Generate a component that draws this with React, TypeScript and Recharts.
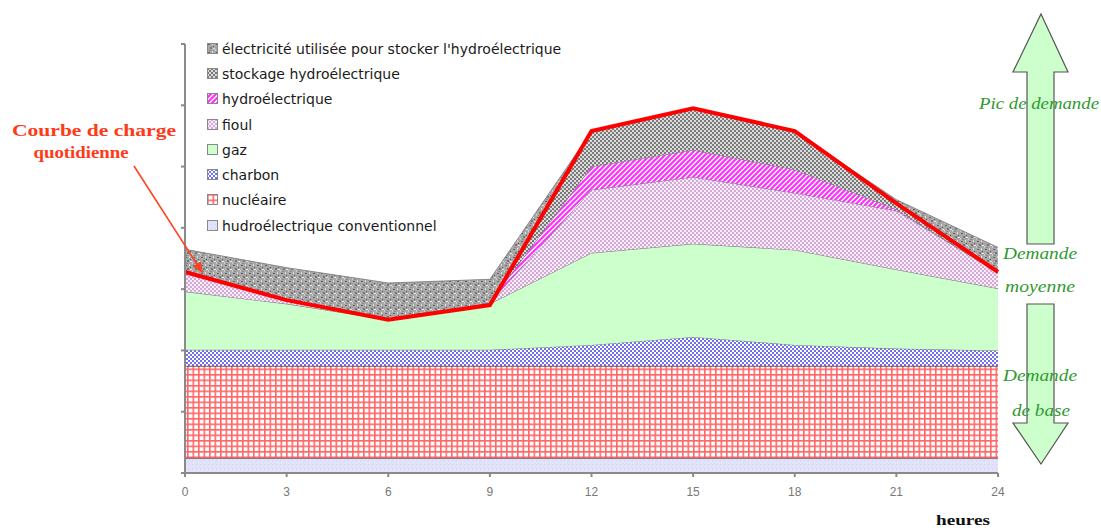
import React from 'react';
import { ComposedChart, Area, Line, XAxis, YAxis, Legend } from 'recharts';

// heures de la journée
const hours = [0, 3, 6, 9, 12, 15, 18, 21, 24];

// épaisseur de chaque couche empilée (unités de l'axe vertical, sans échelle)
const hydroConv = [0.25, 0.25, 0.25, 0.25, 0.25, 0.25, 0.25, 0.25, 0.25];
const nucleaire = [1.5, 1.5, 1.5, 1.5, 1.5, 1.5, 1.5, 1.5, 1.5];
const charbon = [0.26, 0.26, 0.26, 0.26, 0.34, 0.47, 0.34, 0.28, 0.25];
const gaz = [0.95, 0.75, 0.49, 0.75, 1.5, 1.52, 1.55, 1.29, 1.01];
const fioul = [0.31, 0.07, 0, 0.02, 1.03, 1.09, 0.93, 0.96, 0.26];
const hydro = [0, 0, 0, 0, 0.38, 0.44, 0.38, 0.02, 0];
const stockage = [0, 0, 0, 0, 0.57, 0.69, 0.62, 0.11, 0];
const elecStock = [0.38, 0.52, 0.6, 0.38, 0, 0, 0, 0.05, 0.41];

// courbe de charge quotidienne
const charge = [3.28, 2.82, 2.5, 2.74, 5.58, 5.95, 5.58, 4.4, 3.28];

const xTicks = [0, 3, 6, 9, 12, 15, 18, 21, 24];
const yTicks = [0, 1, 2, 3, 4, 5, 6, 7];

const series = [
  { key: 'hydroConv', name: 'hudroélectrique conventionnel', fill: 'url(#pHydroConv)', stroke: '#74505a', sw: 2 },
  { key: 'nucleaire', name: 'nucléaire', fill: 'url(#pNuc)', stroke: '#74505a', sw: 2 },
  { key: 'charbon', name: 'charbon', fill: 'url(#pCharbon)', stroke: '#777', sw: 1 },
  { key: 'gaz', name: 'gaz', fill: '#ccffcc', stroke: '#777', sw: 1 },
  { key: 'fioul', name: 'fioul', fill: 'url(#pFioul)', stroke: '#777', sw: 1 },
  { key: 'hydro', name: 'hydroélectrique', fill: 'url(#pHydro)', stroke: '#777', sw: 1 },
  { key: 'stockage', name: 'stockage hydroélectrique', fill: 'url(#pStock)', stroke: '#777', sw: 1 },
  { key: 'elecStock', name: "électricité utilisée pour stocker l'hydroélectrique", fill: 'url(#pElec)', stroke: '#888', sw: 1 },
];

const data = hours.map((h, i) => ({
  h,
  hydroConv: hydroConv[i],
  nucleaire: nucleaire[i],
  charbon: charbon[i],
  gaz: gaz[i],
  fioul: fioul[i],
  hydro: hydro[i],
  stockage: stockage[i],
  elecStock: elecStock[i],
  charge: charge[i],
}));

const renderLegend = () => (
  <div style={{ fontFamily: '"DejaVu Sans", Verdana, sans-serif', fontSize: 14, color: '#1a1a1a' }}>
    {[...series].reverse().map((s) => (
      <div key={s.key} style={{ display: 'flex', alignItems: 'center', height: 25.3, whiteSpace: 'nowrap' }}>
        <svg width={12} height={12} style={{ marginRight: 3 }}>
          <rect x={0.5} y={0.5} width={10} height={10} fill={s.fill} stroke="#888" />
        </svg>
        <span>{s.name}</span>
      </div>
    ))}
  </div>
);

const noTick = () => <g />;

const green = '#2f9a2f';

export default function App() {
  return (
    <div style={{ position: 'absolute', left: 0, top: 0, width: 1101, height: 528, background: '#fff' }}>
      <ComposedChart width={1101} height={528} data={data} margin={{ top: 44, right: 103, bottom: 25, left: 175 }}>
        <defs>
          <pattern id="pHydroConv" width="4" height="4" patternUnits="userSpaceOnUse">
            <rect width="4" height="4" fill="#e2e2fb" />
            <rect width="1" height="1" fill="#d0d0f0" />
          </pattern>
          <pattern id="pNuc" width="5.5" height="5.5" patternUnits="userSpaceOnUse">
            <rect width="5.5" height="5.5" fill="#fff" />
            <rect width="5.5" height="1.6" fill="#f66" />
            <rect width="1.6" height="5.5" fill="#f66" />
          </pattern>
          <pattern id="pCharbon" width="4" height="4" patternUnits="userSpaceOnUse">
            <rect width="4" height="4" fill="#fff" />
            <rect width="2" height="2" fill="#7070ee" />
            <rect x="2" y="2" width="2" height="2" fill="#7070ee" />
          </pattern>
          <pattern id="pFioul" width="4" height="4" patternUnits="userSpaceOnUse">
            <rect width="4" height="4" fill="#f7eef7" />
            <rect width="2" height="2" fill="#d4a8d8" />
            <rect x="2" y="2" width="2" height="2" fill="#d4a8d8" />
          </pattern>
          <pattern id="pHydro" width="5" height="5" patternUnits="userSpaceOnUse">
            <rect width="5" height="5" fill="#fff" />
            <path d="M-1,6 L6,-1 M-1,1 L1,-1 M4,6 L6,4" stroke="#ff30ff" strokeWidth="2.2" />
          </pattern>
          <pattern id="pStock" width="4" height="4" patternUnits="userSpaceOnUse">
            <rect width="4" height="4" fill="#dcdcdc" />
            <rect width="2" height="2" fill="#7a7a7a" />
            <rect x="2" y="2" width="2" height="2" fill="#7a7a7a" />
          </pattern>
          <pattern id="pElec" width="8" height="8" patternUnits="userSpaceOnUse">
            <rect width="8" height="8" fill="#a8a8a8" />
            <rect x="1" y="1" width="2" height="1" fill="#666" />
            <rect x="5" y="0" width="1" height="2" fill="#ddd" />
            <rect x="3" y="4" width="2" height="2" fill="#777" />
            <rect x="6" y="5" width="2" height="1" fill="#e4e4e4" />
            <rect x="0" y="6" width="1" height="2" fill="#ccc" />
            <rect x="6" y="3" width="1" height="1" fill="#555" />
            <rect x="2" y="7" width="2" height="1" fill="#888" />
          </pattern>
        </defs>
        <XAxis
          dataKey="h"
          type="number"
          domain={[0, 24]}
          ticks={xTicks}
          tickSize={4}
          tickMargin={10}
          stroke="#8a8a8a"
          strokeWidth={2}
          tick={{ fill: '#777', fontSize: 12, fontFamily: '"Liberation Sans", Arial, sans-serif' }}
        />
        <YAxis
          type="number"
          domain={[0, 7]}
          ticks={yTicks}
          width={10}
          tickSize={4}
          tick={noTick}
          stroke="#8a8a8a"
          strokeWidth={2}
        />
        <Legend
          content={renderLegend}
          layout="vertical"
          align="center"
          verticalAlign="middle"
          wrapperStyle={{ left: 207, top: 36, width: 430, height: 210 }}
        />
        {series.map((s) => (
          <Area
            key={s.key}
            type="linear"
            dataKey={s.key}
            name={s.name}
            stackId="a"
            fill={s.fill}
            fillOpacity={1}
            stroke={s.stroke}
            strokeWidth={s.sw}
            isAnimationActive={false}
          />
        ))}
        <Line
          type="linear"
          dataKey="charge"
          stroke="#ff0000"
          strokeWidth={4}
          dot={false}
          isAnimationActive={false}
          legendType="none"
        />
      </ComposedChart>
      <svg width={1101} height={528} style={{ position: 'absolute', left: 0, top: 0, pointerEvents: 'none' }}>
        <defs>
          <marker id="arrowHead" markerWidth="8" markerHeight="8" refX="6" refY="4" orient="auto">
            <path d="M0,1 L7,4 L0,7 Z" fill="#ff4422" />
          </marker>
        </defs>
        <g fontFamily='"Liberation Serif", "Times New Roman", serif' fontWeight="bold" fill="#ff3a18" fontSize="17">
          <text x={94} y={136} textAnchor="middle" textLength={164} lengthAdjust="spacingAndGlyphs">Courbe de charge</text>
          <text x={81} y={158} textAnchor="middle" textLength={95} lengthAdjust="spacingAndGlyphs">quotidienne</text>
        </g>
        <line x1={134} y1={166} x2={202} y2={272} stroke="#ff4422" strokeWidth={1.6} markerEnd="url(#arrowHead)" />
        <polygon
          points="1041,14 1068,72 1054,72 1054,244 1027,244 1027,72 1013,72"
          fill="#ccffcc"
          stroke="#555"
          strokeWidth={1.2}
        />
        <polygon
          points="1027,304 1054,304 1054,423 1068,423 1041,464 1013,423 1027,423"
          fill="#ccffcc"
          stroke="#555"
          strokeWidth={1.2}
        />
        <g fontFamily='"Liberation Serif", "Times New Roman", serif' fontStyle="italic" fill={green} fontSize="17">
          <text x={1039} y={109} textAnchor="middle" textLength={120} lengthAdjust="spacingAndGlyphs">Pic de demande</text>
          <text x={1040} y={259} textAnchor="middle" textLength={74} lengthAdjust="spacingAndGlyphs">Demande</text>
          <text x={1040} y={292} textAnchor="middle" textLength={70} lengthAdjust="spacingAndGlyphs">moyenne</text>
          <text x={1040} y={381} textAnchor="middle" textLength={74} lengthAdjust="spacingAndGlyphs">Demande</text>
          <text x={1041} y={416} textAnchor="middle" textLength={58} lengthAdjust="spacingAndGlyphs">de base</text>
        </g>
        <text
          x={963}
          y={525}
          textAnchor="middle"
          fontFamily='"Liberation Serif", "Times New Roman", serif'
          fontWeight="bold"
          fontSize="15"
          fill="#111"
          textLength={54}
          lengthAdjust="spacingAndGlyphs"
        >
          heures
        </text>
      </svg>
    </div>
  );
}
